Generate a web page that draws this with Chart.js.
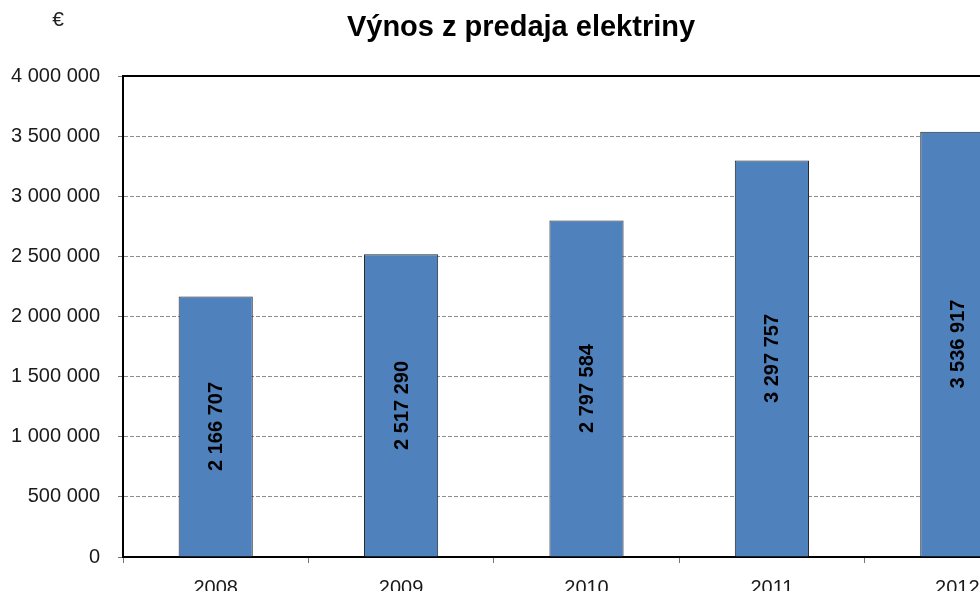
<!DOCTYPE html>
<html>
<head>
<meta charset="utf-8">
<script src="https://cdn.jsdelivr.net/npm/chart.js@4/dist/chart.umd.min.js"></script>
<style>
  html, body { margin: 0; padding: 0; background: #fff; overflow: hidden; }
  #wrap { width: 1060px; height: 600px; }
</style>
</head>
<body>
<div id="wrap"><canvas id="revenue_chart" width="1060" height="600"></canvas></div>
<script type="text/javascript">
    var years = ["2008", "2009", "2010", "2011", "2012"];
    var revenue = [2166707, 2517290, 2797584, 3297757, 3536917];
    var chartTitle = "Výnos z predaja elektriny";
    var unitLabel = "€";
    var fontFamily = "'Liberation Sans', Arial, sans-serif";

    function fmt(v) {
        return String(v).replace(/\B(?=(\d{3})+(?!\d))/g, " ");
    }

    // title, unit, top frame line and labels inside the bars
    var extras = {
        id: "extras",
        afterDatasetsDraw: function (chart) {
            var ctx = chart.ctx;
            var area = chart.chartArea;
            ctx.save();
            ctx.strokeStyle = "#000";
            ctx.lineWidth = 2;
            ctx.beginPath();
            ctx.moveTo(area.left, area.top);
            ctx.lineTo(area.right, area.top);
            ctx.stroke();

            ctx.fillStyle = "#000";
            ctx.textAlign = "center";
            ctx.textBaseline = "middle";
            ctx.font = "bold 29px " + fontFamily;
            ctx.fillText(chartTitle, 521, 28);

            ctx.font = "21px " + fontFamily;
            ctx.fillStyle = "#222";
            ctx.fillText(unitLabel, 58, 20);

            ctx.fillStyle = "#000";
            ctx.font = "bold 20px " + fontFamily;
            chart.getDatasetMeta(0).data.forEach(function (bar, i) {
                ctx.save();
                ctx.translate(bar.x, (bar.y + bar.base) / 2);
                ctx.rotate(-Math.PI / 2);
                ctx.fillText(fmt(revenue[i]), 0, 1);
                ctx.restore();
            });
            ctx.restore();
        }
    };

    var ctx = document.getElementById("revenue_chart").getContext("2d");
    new Chart(ctx, {
        type: "bar",
        data: {
            labels: years,
            datasets: [{
                label: chartTitle,
                data: revenue,
                backgroundColor: "#4F81BD",
                borderColor: "#262626",
                borderWidth: 1,
                borderSkipped: "bottom",
                categoryPercentage: 0.8,
                barPercentage: 0.5
            }]
        },
        options: {
            responsive: false,
            animation: false,
            layout: { padding: { top: 76, left: 0, right: 10, bottom: 0 } },
            plugins: {
                legend: { display: false },
                title: { display: false },
                tooltip: { enabled: false }
            },
            scales: {
                x: {
                    afterFit: function (s) { s.height = 43; },
                    grid: {
                        offset: true,
                        drawOnChartArea: false,
                        tickLength: 6,
                        tickColor: "#777"
                    },
                    border: { color: "#000", width: 2 },
                    ticks: {
                        color: "#1a1a1a",
                        padding: 13,
                        font: { family: fontFamily, size: 20 }
                    }
                },
                y: {
                    min: 0,
                    max: 4000000,
                    afterFit: function (s) { s.width = 123; },
                    grid: {
                        color: "#8c8c8c",
                        lineWidth: 1,
                        tickLength: 5,
                        tickColor: "#777"
                    },
                    border: { color: "#000", width: 2, dash: [4, 2] },
                    ticks: {
                        stepSize: 500000,
                        color: "#1a1a1a",
                        padding: 18,
                        font: { family: fontFamily, size: 20 },
                        callback: function (v) { return fmt(v); }
                    }
                }
            }
        },
        plugins: [extras]
    });
</script>
</body>
</html>
